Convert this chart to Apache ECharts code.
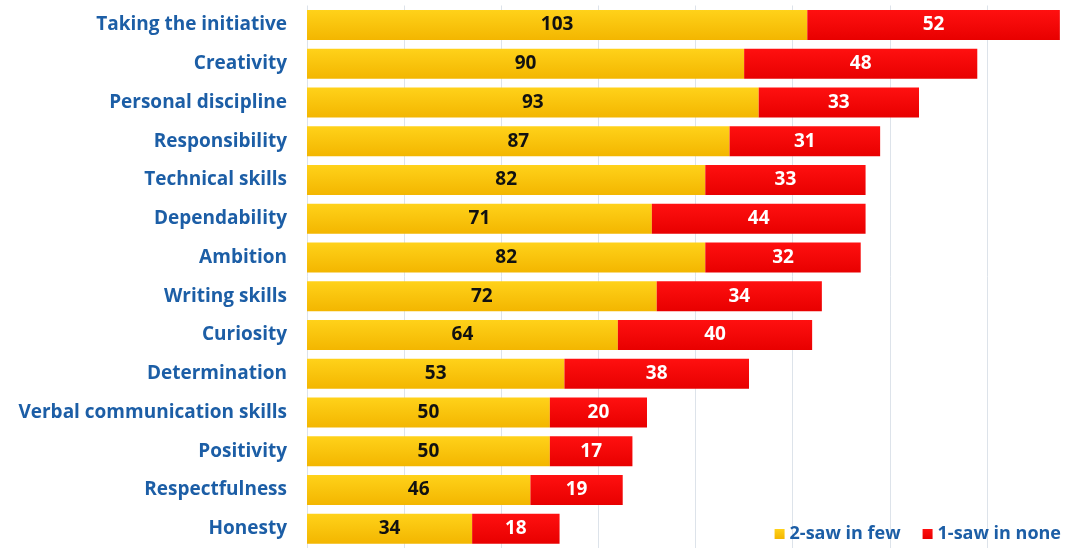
<!DOCTYPE html>
<html><head><meta charset="utf-8">
<script src="https://cdn.jsdelivr.net/npm/echarts@6/dist/echarts.min.js"></script>
<style>html,body{margin:0;padding:0;background:#fff}#c{width:1072px;height:548px}</style>
</head><body><div id="c"></div>
<script>
const categories = ["Taking the initiative","Creativity","Personal discipline","Responsibility","Technical skills","Dependability","Ambition","Writing skills","Curiosity","Determination","Verbal communication skills","Positivity","Respectfulness","Honesty"];
const sawInFew = [103,90,93,87,82,71,82,72,64,53,50,50,46,34];
const sawInNone = [52,48,33,31,33,44,32,34,40,38,20,17,19,18];
const seriesNames = ["2-saw in few","1-saw in none"];

const chart = echarts.init(document.getElementById('c'));
const font = "'Open Sans', 'Noto Sans', sans-serif";
chart.setOption({
  animation:false,
  grid:{left:307, right:0, top:5.5, height:546, containLabel:false},
  xAxis:{type:'value', min:0, max:157.5, interval:20,
    axisLabel:{show:false}, axisLine:{show:false}, axisTick:{show:false},
    splitLine:{show:true, lineStyle:{color:'#dde3ea', width:1}}},
  yAxis:{type:'category', data:categories, inverse:true,
    axisLine:{show:false}, axisTick:{show:false},
    axisLabel:{margin:20, color:'#1c5ea6', fontFamily:font, fontWeight:'bold', fontSize:19}},
  legend:{right:6, bottom:0, itemWidth:10, itemHeight:10, itemGap:22,
    icon:'rect', data:seriesNames,
    textStyle:{color:'#1c5ea6', fontFamily:font, fontWeight:'bold', fontSize:18}},
  series:[
    {name:seriesNames[0], type:'bar', stack:'a', data:sawInFew, barWidth:30,
      itemStyle:{color:new echarts.graphic.LinearGradient(0,0,0,1,[{offset:0,color:'#ffd21a'},{offset:1,color:'#f3b600'}])},
      label:{show:true, position:'inside', color:'#111', fontFamily:font, fontWeight:'bold', fontSize:19}},
    {name:seriesNames[1], type:'bar', stack:'a', data:sawInNone, barWidth:30,
      itemStyle:{color:new echarts.graphic.LinearGradient(0,0,0,1,[{offset:0,color:'#ff1010'},{offset:1,color:'#e80000'}])},
      label:{show:true, position:'inside', color:'#fff', fontFamily:font, fontWeight:'bold', fontSize:19}}
  ]
});
</script></body></html>
